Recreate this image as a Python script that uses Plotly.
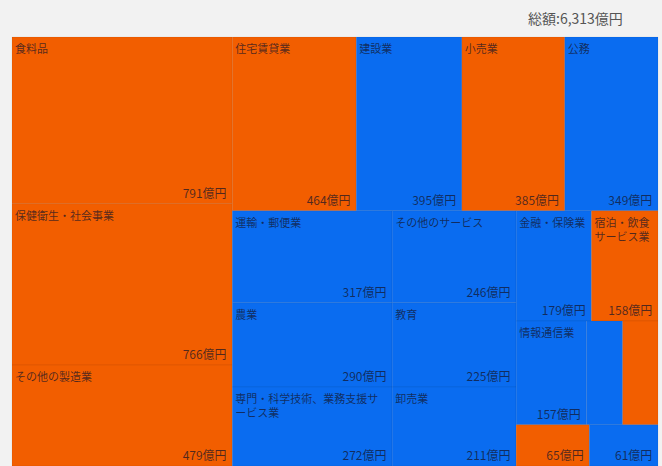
import plotly.graph_objects as go

# Data (億円)
categories = ["食料品", "保健衛生・社会事業", "その他の製造業", "住宅賃貸業", "建設業",
              "小売業", "公務", "運輸・郵便業", "農業", "専門・科学技術、業務支援サービス業",
              "その他のサービス", "教育", "卸売業", "金融・保険業", "宿泊・飲食サービス業",
              "情報通信業", "電気・ガス・水道業", "鉱業", "不動産仲介業", "漁業"]
values = [791, 766, 479, 464, 395, 385, 349, 317, 290, 272,
          246, 225, 211, 179, 158, 157, 81, 79, 65, 61]
group = ["A", "A", "A", "A", "B", "A", "B", "B", "B", "B",
         "B", "B", "B", "B", "A", "B", "B", "A", "A", "B"]
show_label = [True] * 16 + [False, False, True, True]
show_name = [True] * 16 + [False, False, False, False]
display_names = {"専門・科学技術、業務支援サービス業": "専門・科学技術、業務支援サ<br>ービス業",
                 "宿泊・飲食サービス業": "宿泊・飲食<br>サービス業"}
total_label = "総額:6,313億円"

color_map = {"A": "#F25E00", "B": "#0A6CF0"}
colors = [color_map[g] for g in group]

label_text = [(display_names.get(c, c) if s else "") for c, s in zip(categories, show_name)]
value_text = [(f"{v}億円&nbsp;" if s else "") for v, s in zip(values, show_label)]

dom = dict(x=[12 / 662, 658 / 662], y=[0, (466 - 37) / 466])
common = dict(labels=categories, parents=[""] * len(categories), values=values,
              sort=True, domain=dom,
              tiling=dict(packing="squarify", squarifyratio=1.618034, pad=0),
              pathbar=dict(visible=False), textinfo="text")

fig = go.Figure()
fig.add_trace(go.Treemap(
    **common,
    text=label_text,
    textposition="top left",
    textfont=dict(family="Noto Sans CJK JP", size=11, color="rgba(20,20,40,0.72)"),
    marker=dict(colors=colors, line=dict(width=0.5, color="rgba(0,0,0,0.12)"),
                pad=dict(t=0, l=0, r=0, b=0)),
))
fig.add_trace(go.Treemap(
    **common,
    text=value_text,
    textposition="bottom right",
    textfont=dict(family="Noto Sans CJK JP", size=12, color="rgba(20,20,40,0.72)"),
    marker=dict(colors=["rgba(0,0,0,0)"] * len(values), line=dict(width=0),
                pad=dict(t=0, l=0, r=0, b=0)),
    hoverinfo="skip",
))

fig.add_annotation(text=total_label, x=625 / 662, y=1 - 18 / 466, xref="paper", yref="paper",
                   xanchor="right", yanchor="middle", showarrow=False,
                   font=dict(family="Noto Sans CJK JP", size=14, color="#555555"))

fig.update_layout(width=662, height=466, margin=dict(l=0, r=0, t=0, b=0),
                  paper_bgcolor="#f2f2f2", plot_bgcolor="#f2f2f2")
fig.write_html("out.html", config={"displayModeBar": False},
               post_script="document.body.style.margin='0';")
